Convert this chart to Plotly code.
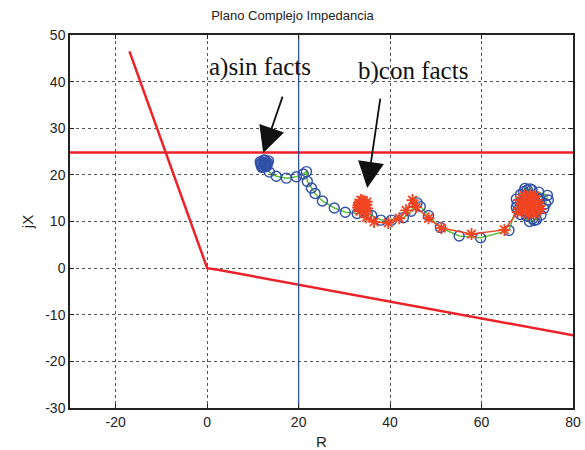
import plotly.graph_objects as go

# Relay characteristic (red)
relay_r = [-17.0, -2.0, 0.0, 2.0, 80.0]
relay_x = [46.5, 5.8, 0.0, -0.3, -14.4]
# Reach limit (horizontal red)
limit_r = [-30, 80]
limit_x = [24.8, 24.8]
# Vertical reference at R = 20
vert_r = [20, 20]
vert_x = [-30, 50]

# a) sin facts : impedance trajectory (open circles + green line)
sin_r = [11.8, 12.4, 13.2, 12.0, 13.0, 12.6, 11.6, 13.4, 12.5, 12.2, 12.9, 11.9, 12.7, 13.1, 12.3, 11.7,
         13.6, 15.1, 17.3, 19.5, 21.0, 21.7, 21.9, 22.8, 23.6, 25.2, 27.8,
         30.2, 32.8, 35.0, 36.0, 38.0, 40.3, 42.9, 44.6, 45.9, 46.6, 48.4,
         51.0, 55.1, 59.8, 66.0,
         67.6, 68.5, 69.5, 71.0, 72.5, 74.4, 74.0, 72.0, 70.5, 68.5, 69.0,
         71.0, 70.0, 72.0, 67.6, 74.6, 70.0, 68.0, 73.0, 71.5, 70.8, 71.8,
         69.2, 72.8, 68.6, 70.3, 71.5, 73.6, 69.8, 67.8, 72.3, 70.6, 68.9, 71.2]
sin_x = [22.0, 23.2, 22.6, 21.6, 21.8, 22.4, 22.8, 23.0, 22.3, 22.7, 22.1, 22.3, 23.1, 22.2, 21.7, 22.5,
         20.6, 19.7, 19.3, 19.6, 20.2, 20.7, 18.6, 17.2, 16.0, 14.4, 12.9,
         12.0, 11.7, 11.7, 11.3, 10.3, 10.3, 10.8, 12.2, 14.0, 13.2, 11.3,
         8.7, 6.9, 6.5, 8.1,
         13.0, 15.8, 17.1, 16.8, 16.3, 15.6, 13.8, 10.4, 10.0, 11.5, 14.0,
         13.0, 12.0, 14.0, 14.8, 14.6, 16.8, 12.5, 11.4, 10.2, 15.2, 13.6,
         16.4, 14.8, 14.2, 13.8, 12.2, 12.8, 11.2, 13.8, 15.0, 17.0, 12.6, 10.6]

# b) con facts : impedance trajectory (stars + red line)
con_r = [33.0, 34.0, 34.8, 33.4, 34.5, 33.2, 34.0, 35.0, 33.7, 34.3, 33.6, 34.9, 33.1, 34.4,
         34.8, 36.5, 39.6, 42.0, 43.5, 44.9, 45.7, 48.4, 51.2, 57.8, 65.0,
         67.9, 69.0, 70.0, 71.0, 72.4, 72.9, 71.8, 70.2, 68.5, 71.0, 70.5,
         69.5, 71.6, 68.3, 72.6, 69.8, 71.4, 70.4, 68.9, 72.2, 71.2, 69.3, 70.6, 72.0]
con_x = [13.0, 14.5, 13.6, 12.2, 12.4, 14.0, 13.2, 12.8, 13.5, 13.9, 14.6, 14.2, 13.5, 12.9,
         10.9, 9.9, 9.7, 10.7, 12.4, 14.6, 13.1, 10.7, 8.6, 7.3, 8.2,
         12.0, 14.0, 15.4, 15.2, 14.0, 12.6, 11.6, 11.6, 13.0, 13.0, 12.2,
         15.0, 15.5, 14.6, 13.4, 13.8, 14.4, 14.8, 12.2, 13.0, 12.0, 15.6, 15.6, 12.6]

x_ticks = [-20, 0, 20, 40, 60, 80]
x_labels = ["-20", "0", "20", "40", "60", "80"]
y_ticks = [-30, -20, -10, 0, 10, 20, 30, 40, 50]
y_labels = ["-30", "-20", "-10", "0", "10", "20", "30", "40", "50"]

fig = go.Figure()
fig.add_trace(go.Scatter(x=relay_r, y=relay_x, mode="lines",
                         line=dict(color="#ee2028", width=2.5), hoverinfo="skip"))
fig.add_trace(go.Scatter(x=limit_r, y=limit_x, mode="lines",
                         line=dict(color="#ee2028", width=2.5), hoverinfo="skip"))
fig.add_trace(go.Scatter(x=vert_r, y=vert_x, mode="lines",
                         line=dict(color="#3050a0", width=1.3), hoverinfo="skip"))
fig.add_trace(go.Scatter(x=sin_r, y=sin_x, mode="lines+markers",
                         line=dict(color="#5cc03a", width=1.5),
                         marker=dict(symbol="circle-open", size=10, color="#3050a8",
                                     line=dict(width=1.4, color="#3050a8"))))
fig.add_trace(go.Scatter(x=con_r, y=con_x, mode="lines+markers",
                         line=dict(color="#f04422", width=1.5),
                         marker=dict(symbol="asterisk-open", size=10, color="#f04422",
                                     line=dict(width=1.8, color="#f04422"))))

serif = dict(family="Liberation Serif, Times New Roman, serif", size=25, color="#111")
fig.add_annotation(x=11.6, y=43.2, text="a)sin facts", showarrow=False, font=serif)
fig.add_annotation(x=44.9, y=42.2, text="b)con facts", showarrow=False, font=serif)
fig.add_annotation(x=12.25, y=24.7, ax=16.6, ay=37.1, axref="x", ayref="y",
                   xref="x", yref="y", text="", showarrow=True, arrowhead=2,
                   arrowsize=2.9, arrowwidth=1.8, arrowcolor="#111")
fig.add_annotation(x=35.0, y=17.2, ax=37.9, ay=36.7, axref="x", ayref="y",
                   xref="x", yref="y", text="", showarrow=True, arrowhead=2,
                   arrowsize=2.9, arrowwidth=1.8, arrowcolor="#111")

axis_common = dict(showgrid=True, gridcolor="#555", griddash="dot", gridwidth=1,
                   showline=True, linecolor="#222", linewidth=1.5, mirror="allticks",
                   ticks="inside", ticklen=4, tickcolor="#222", zeroline=False,
                   automargin=False,
                   tickfont=dict(family="Liberation Sans, Arial, sans-serif", size=14, color="#222"))

fig.update_layout(
    width=585, height=450,
    margin=dict(l=70, r=12, t=35, b=42),
    paper_bgcolor="white", plot_bgcolor="white",
    showlegend=False,
    title=dict(text="Plano Complejo Impedancia", x=0.5, xanchor="center", y=0.965,
               yanchor="middle",
               font=dict(family="Liberation Sans, Arial, sans-serif", size=13, color="#222")),
    xaxis=dict(range=[-30, 80], tickvals=x_ticks, ticktext=x_labels,
               title=dict(text="R", standoff=8,
                          font=dict(family="Liberation Sans, Arial, sans-serif", size=15, color="#222")),
               **axis_common),
    yaxis=dict(range=[-30, 50], tickvals=y_ticks, ticktext=y_labels,
               title=dict(text="jX", standoff=8,
                          font=dict(family="Liberation Sans, Arial, sans-serif", size=15, color="#222")),
               **axis_common),
)

fig.write_html("out.html")
